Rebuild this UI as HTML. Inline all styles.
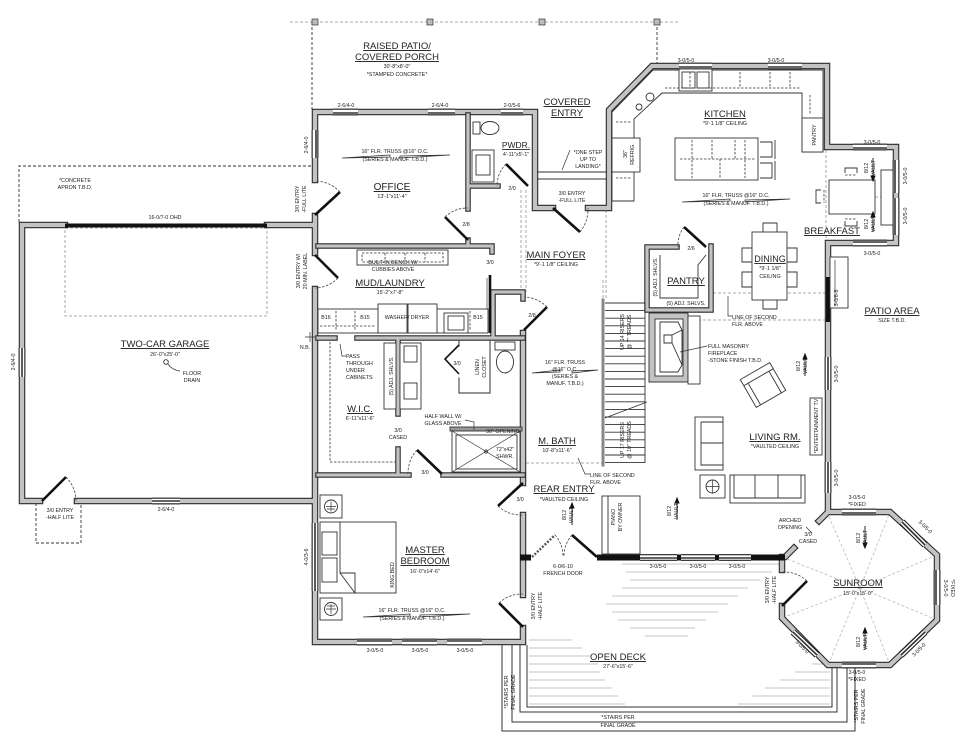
<!DOCTYPE html>
<html><head><meta charset="utf-8">
<style>
html,body{margin:0;padding:0;background:#fff;}
svg{display:block;}
text{font-family:"Liberation Sans Narrow","Liberation Sans",sans-serif;fill:#222;}
.s{font-size:5.3px;}
.r{font-size:9.5px;text-decoration:underline;}
</style></head><body>
<svg width="979" height="742" viewBox="0 0 979 742" xmlns="http://www.w3.org/2000/svg">
<rect x="0" y="0" width="979" height="742" fill="#fff"/>

<!-- dashed outlines: porch, apron -->
<g fill="none" stroke="#aaa" stroke-width="1" stroke-dasharray="3,2">
  <path d="M290 22 L680 22"/>
  <rect x="65" y="228" width="202" height="88"/>
  <path d="M521 190 L521 292 M526 190 L526 292 M606 210 L606 300 M603 280 L603 303"/>
  <path d="M713 293 L828 293 M688 320 L828 320 M526 463 L602 463"/>
  <path d="M826 150 L826 241 M830 197 L894 197"/>
</g>
<g fill="none" stroke="#333" stroke-width="0.9" stroke-dasharray="3,2">
  <path d="M312 22 L312 110 M657 22 L657 65"/>
  <path d="M19 222 L19 166 L312 166"/>
  <path d="M36 503 L36 543 L81 543 L81 503"/>
</g>
<g fill="#bbb" stroke="#333" stroke-width="0.7">
  <rect x="312" y="19" width="6" height="6"/><rect x="427" y="19" width="6" height="6"/>
  <rect x="539" y="19" width="6" height="6"/><rect x="654" y="19" width="6" height="6"/>
</g>

<!-- deck boards -->
<g stroke="#c6c6c6" stroke-width="0.9">
  <path d="M622 564 L780 564 M626 572 L772 572 M630 580 L760 580 M622 588 L748 588 M612 596 L738 596 M606 604 L728 604 M612 612 L718 612 M618 620 L706 620 M630 628 L695 628 M645 636 L688 636"/>
  <path d="M529 640 L572 640 M529 648 L582 648 M529 656 L590 656 M529 664 L598 664 M529 672 L600 672 M529 680 L605 680 M529 688 L612 688 M529 696 L618 696 M529 704 L625 704"/>
  <path d="M812 664 L830 664 M795 672 L830 672 M780 680 L830 680 M765 688 L830 688 M752 696 L830 696 M738 704 L830 704"/>
</g>
<!-- deck borders / stairs -->
<g fill="none" stroke="#333" stroke-width="1">
  <path d="M527 645 L527 707 L832 707 L832 665"/>
  <path d="M520 645 L520 712 L837 712 L837 665"/>
  <path d="M512 645 L512 722 L847 722 L847 665"/>
  <path d="M502 645 L502 731 L855 731 L855 665"/>
</g>

<!-- sunroom radial lines -->
<g stroke="#bbb" stroke-width="0.8" stroke-dasharray="3,2">
  <path d="M860 588 L827 512 M860 588 L890 512 M860 588 L937 555 M860 588 L937 620 M860 588 L890 665 M860 588 L828 665 M860 588 L782 618 M860 588 L782 557"/>
</g>

<!-- EXTERIOR WALLS -->
<g fill="none" stroke-linejoin="miter" stroke-linecap="square">
<path id="ew" stroke="#2a2a2a" stroke-width="6.5" d="
M65 225 L22 225 L22 501 L40 501
M77 501 L312 501
M267 225 L312 225
M315 180 L315 112 L535 112 L535 208 L553 208
M588 208 L609 208 L609 110 L652 66 L827 66 L827 147 L896 147 L896 243 L828 243 L828 512 L819 521
M794 548 L785 557 L782 557 L782 570
M782 606 L782 618 L828 665 L890 665 L937 620 L937 555 L890 512 L828 512
M315 216 L315 253
M315 289 L315 642 L523 642 L523 628
M523 595 L523 515
M523 483 L523 333"/>
<path stroke="#c3c3c3" stroke-width="4.3" d="
M65 225 L22 225 L22 501 L40 501
M77 501 L312 501
M267 225 L312 225
M315 180 L315 112 L535 112 L535 208 L553 208
M588 208 L609 208 L609 110 L652 66 L827 66 L827 147 L896 147 L896 243 L828 243 L828 512 L819 521
M794 548 L785 557 L782 557 L782 570
M782 606 L782 618 L828 665 L890 665 L937 620 L937 555 L890 512 L828 512
M315 216 L315 253
M315 289 L315 642 L523 642 L523 628
M523 595 L523 515
M523 483 L523 333"/>
</g>
<!-- INTERIOR WALLS -->
<g fill="none" stroke-linejoin="miter" stroke-linecap="square">
<path stroke="#2a2a2a" stroke-width="5.5" d="
M318 246 L492 246 L492 252
M468 115 L468 209
M468 186 L498 186
M468 240 L468 246
M493 335 L493 292 L523 292 L523 299
M318 338 L335 338
M357 338 L523 338
M398 340 L398 414
M398 449 L398 475
M318 475 L409 475
M443 475 L523 475
M647 310 L647 247 L677 247
M711 246 L711 310 L647 310"/>
<path stroke="#c3c3c3" stroke-width="3.3" d="
M318 246 L492 246 L492 252
M468 115 L468 209
M468 186 L498 186
M468 240 L468 246
M493 335 L493 292 L523 292 L523 299
M318 338 L335 338
M357 338 L523 338
M398 340 L398 414
M398 449 L398 475
M318 475 L409 475
M443 475 L523 475
M647 310 L647 247 L677 247
M711 246 L711 310 L647 310"/>
<path stroke="#555" stroke-width="1.2" d="M459 340 L459 346 M459 378 L459 393 L490 393 L490 340"/>
<path stroke="#888" stroke-width="3" d="M603 300 L603 465"/>
</g>

<!-- living bottom wall black + segments -->
<g fill="#111">
  <rect x="520" y="554.5" width="11" height="6"/>
  <rect x="597" y="554.5" width="188" height="6"/>
</g>

<!-- WINDOWS -->
<g fill="none" stroke-linecap="butt">
<path stroke="#222" stroke-width="6.8" d="
M333 112 L358 112 M428 112 L455 112 M501 112 L523 112 M315 130 L315 158
M679 66 L712 66 M768 66 L802 66
M853 147 L887 147 M853 243 L887 243 M896 160 L896 193 M896 198 L896 235
M828 357 L828 390 M828 462 L828 493
M640 557.5 L677 557.5 M681 557.5 L715 557.5 M719 557.5 L751 557.5
M315 523 L315 591
M357 642 L392 642 M402 642 L437 642 M447 642 L482 642
M22 348 L22 377 M152 501 L180 501
M842 512 L876 512 M902 522 L925 545 M937 570 L937 605 M925 632 L901 655 M842 665 L876 665 M817 655 L793 632"/>
<path stroke="#fff" stroke-width="4.6" d="
M333 112 L358 112 M428 112 L455 112 M501 112 L523 112 M315 130 L315 158
M679 66 L712 66 M768 66 L802 66
M853 147 L887 147 M853 243 L887 243 M896 160 L896 193 M896 198 L896 235
M828 357 L828 390 M828 462 L828 493
M640 557.5 L677 557.5 M681 557.5 L715 557.5 M719 557.5 L751 557.5
M315 523 L315 591
M357 642 L392 642 M402 642 L437 642 M447 642 L482 642
M22 348 L22 377 M152 501 L180 501
M842 512 L876 512 M902 522 L925 545 M937 570 L937 605 M925 632 L901 655 M842 665 L876 665 M817 655 L793 632"/>
<path stroke="#333" stroke-width="1.6" d="
M333 113 L358 113 M428 113 L455 113 M501 113 L523 113 M316 130 L316 158
M679 67 L712 67 M768 67 L802 67
M853 148 L887 148 M853 242 L887 242 M895 160 L895 193 M895 198 L895 235
M828 357 L828 390 M828 462 L828 493
M640 558 L677 558 M681 558 L715 558 M719 558 L751 558
M315 523 L315 591
M357 641 L392 641 M402 641 L437 641 M447 641 L482 641
M22 348 L22 377 M152 501 L180 501
M842 513 L876 513 M902 522 L925 545 M936 570 L936 605 M925 632 L901 655 M842 664 L876 664 M817 655 L793 632"/>
</g>
<!-- garage door & patio slider -->
<rect x="65" y="223.5" width="202" height="4" fill="#111"/>
<line x1="828" y1="277" x2="828" y2="322" stroke="#111" stroke-width="4"/>
<rect x="830" y="257" width="18" height="51" fill="#fff" stroke="#333" stroke-width="0.9"/>
<line x1="835" y1="260" x2="835" y2="305" stroke="#333" stroke-width="0.7"/>

<!-- DOORS -->
<g stroke="#111" stroke-width="2.6" fill="none">
  <path d="M315 215 L340 192"/>
  <path d="M315 255 L338 278"/>
  <path d="M468 240 L445 217"/>
  <path d="M528 186 L506 164"/>
  <path d="M553 208 L580 232"/>
  <path d="M524 330 L547 307"/>
  <path d="M442 474 L417 450"/>
  <path d="M523 483 L498 506"/>
  <path d="M523 627 L499 603"/>
  <path d="M782 606 L807 581"/>
  <path d="M42 501 L66 477"/>
  <path d="M706 247 L684 227"/>
  <path d="M597 557 L572 535"/>
  <path d="M490 275 L490 333"/>
  <path d="M459 345 L445 359 L459 374" stroke-width="1.6"/>
</g>
<path d="M532 557 L555 535" stroke="#555" stroke-width="2.4" stroke-dasharray="2,1.5" fill="none"/>
<g stroke="#444" stroke-width="0.8" fill="none" stroke-dasharray="2.5,1.5">
  <path d="M340 192 A34 34 0 0 0 315 181"/>
  <path d="M338 278 A33 33 0 0 1 315 288"/>
  <path d="M445 217 A32 32 0 0 1 468 208"/>
  <path d="M506 164 A31 31 0 0 0 497 186"/>
  <path d="M580 232 A36 36 0 0 0 588 208"/>
  <path d="M547 307 A33 33 0 0 0 524 297"/>
  <path d="M417 450 A34 34 0 0 0 408 474"/>
  <path d="M498 506 A34 34 0 0 0 523 515"/>
  <path d="M499 603 A34 34 0 0 1 523 594"/>
  <path d="M807 581 A34 34 0 0 0 782 572"/>
  <path d="M66 477 A34 34 0 0 1 76 501"/>
  <path d="M684 227 A30 30 0 0 0 678 247"/>
  <path d="M555 535 A32 32 0 0 1 563 557"/>
  <path d="M572 535 A32 32 0 0 0 564 557"/>
</g>
<line x1="487" y1="278" x2="487" y2="333" stroke="#555" stroke-width="0.8"/>

<!-- FIXTURES -->
<g fill="#fff" stroke="#333" stroke-width="0.9">
  <!-- PWDR -->
  <rect x="473" y="122" width="7" height="12"/>
  <ellipse cx="490" cy="128" rx="9" ry="6.5"/>
  <rect x="472" y="150" width="22" height="32"/>
  <rect x="476" y="155" width="14" height="20"/>
  <!-- covered entry landing -->
  <path d="M537 172 L607 172 M537 179 L607 179" fill="none"/>
  <!-- mud bench -->
  <rect x="357" y="250" width="91" height="15"/>
  <!-- laundry counter -->
  <rect x="318" y="309" width="170" height="24"/>
  <rect x="378" y="304" width="29" height="29"/>
  <rect x="408" y="304" width="29" height="29"/>
  <rect x="444" y="313" width="24" height="20"/>
  <rect x="448" y="316" width="16" height="14"/>
  <!-- WIC shelf + vanity -->
  <rect x="384" y="343" width="12" height="66"/>
  <rect x="400" y="343" width="21" height="66"/>
  <rect x="404" y="346" width="13" height="16"/>
  <rect x="404" y="383" width="13" height="16"/>
  <!-- bath toilet -->
  <rect x="495" y="342" width="20" height="8"/>
  <ellipse cx="505" cy="362" rx="8.5" ry="11"/>
  <!-- half wall + shower -->
  <rect x="450" y="427" width="72" height="4" fill="#999"/>
  <rect x="452" y="431" width="68" height="41"/>
  <rect x="456" y="435" width="61" height="34"/>
  <!-- kitchen counters -->
  <path d="M653 70 L823 70 L823 152 L802 152 L802 93 L662 93 L634 119 L634 201 L612 201 L612 112 Z"/>
  <rect x="679" y="69" width="33" height="22"/>
  <rect x="682" y="72" width="13" height="16"/><rect x="697" y="72" width="12" height="16"/>
  <rect x="802" y="118" width="21" height="34"/>
  <rect x="612" y="138" width="28" height="34"/>
  <circle cx="650" cy="97" r="4"/><circle cx="639" cy="107" r="3"/>
  <!-- island -->
  <rect x="675" y="138" width="83" height="42"/>
  <path d="M760 142 L772 142 L772 157 L760 157 M760 163 L772 163 L772 178 L760 178 M775 140 L775 159 M775 161 L775 180" fill="none"/>
  <!-- breakfast -->
  <rect x="829" y="180" width="46" height="34"/>
  <rect x="881" y="170" width="12" height="55"/>
  <path d="M845 173 L845 168 L857 168 L857 173 M845 221 L845 226 L857 226 L857 221 M821 190 L816 190 L816 203 L821 203" fill="none"/>
  <!-- dining -->
  <rect x="752" y="232" width="35" height="68"/>
  <path d="M763 232 L763 223 L777 223 L777 232 M763 300 L763 309 L777 309 L777 300 M752 248 L742 248 L742 262 L752 262 M752 272 L742 272 L742 287 L752 287 M787 248 L797 248 L797 262 L787 262 M787 272 L797 272 L797 287 L787 287" fill="none"/>
  <!-- pantry shelves -->
  <path d="M660 255 L660 298 L698 298 L698 265 L706 255" fill="none"/>
  <!-- fireplace -->
  <rect x="649" y="313" width="39" height="69" fill="#c3c3c3" stroke="#2a2a2a"/>
  <rect x="655" y="319" width="28" height="57"/>
  <path d="M660 322 L678 322 L682 330 L682 365 L678 372 L660 372 Z M664 335 L672 335 L672 343 L664 343 Z M672 343 L682 365 M672 335 L682 330" fill="none"/>
  <rect x="688" y="316" width="12" height="68"/>
  <!-- stairs -->
  <path d="M605 303 L645 303 M605 310.6 L645 310.6 M605 318.2 L645 318.2 M605 325.8 L645 325.8 M605 333.4 L645 333.4 M605 341 L645 341 M605 348.6 L645 348.6 M605 356.2 L645 356.2 M605 363.8 L645 363.8 M605 371.4 L645 371.4 M605 379 L645 379 M605 386.6 L645 386.6 M605 394.2 L645 394.2 M605 401.8 L645 401.8 M605 409.4 L645 409.4 M605 417 L645 417 M605 424.6 L645 424.6 M605 432.2 L645 432.2 M605 439.8 L645 439.8 M605 447.4 L645 447.4 M605 455 L645 455 M605 462.6 L645 462.6 M645 303 L645 463 M605 418 L647 402" fill="none"/>
  <!-- living -->
  <g transform="translate(763,385) rotate(-30)"><rect x="-17" y="-16" width="34" height="32"/><path d="M-17 -9 L17 -9 M-12 -9 L-12 16 M12 -9 L12 16" fill="none"/></g>
  <rect x="695" y="417" width="28" height="53"/>
  <path d="M701 422 L701 465 L723 465 M701 422 L723 422 M701 443 L723 443" fill="none"/>
  <rect x="700" y="475" width="25" height="23"/>
  <circle cx="712.5" cy="486.5" r="6.5"/>
  <rect x="730" y="475" width="75" height="28"/>
  <path d="M734 475 L734 498 L801 498 L801 475 M755 475 L755 498 M778 475 L778 498" fill="none"/>
  <rect x="810" y="398" width="12" height="57"/>
  <rect x="602" y="496" width="38" height="58"/>
  <line x1="608" y1="496" x2="608" y2="554"/>
  <!-- bedroom -->
  <rect x="320" y="495" width="22" height="23"/>
  <rect x="320" y="598" width="22" height="22"/>
  <circle cx="331" cy="506.5" r="6.5"/><circle cx="331" cy="609" r="6.5"/>
  <rect x="320" y="522" width="76" height="71"/>
  <rect x="322" y="532" width="15" height="23"/><rect x="322" y="558" width="15" height="24"/>
  <path d="M340 522 L340 573 L355 573 L355 593 M340 573 L355 593" fill="none"/>
  <!-- garage drain -->
  <circle cx="166" cy="362" r="2.3"/>
</g>
<!-- fixture thin details -->
<g stroke="#333" stroke-width="0.7" fill="none">
  <path d="M452 431 L520 472 M520 431 L452 472"/>
  <circle cx="486" cy="451.5" r="1.6"/>
  <path d="M327 509 L335 509 M331 502 L331 511 M327 606 L335 606 M331 605 L331 613 M706 486.5 L719 486.5 M712.5 480 L712.5 493 M326 506.5 L336 506.5 M331 501.5 L331 511.5 M326 609 L336 609 M331 604 L331 614"/>
  <path d="M168 364 Q172 370 180 371"/>
  <path d="M305 337 L315 337 M310 332 L310 342"/>
</g>
<g stroke="#333" stroke-width="0.8" fill="none" stroke-dasharray="2.5,1.5">
  <rect x="362" y="253" width="81" height="9"/>
  <path d="M385 253 L385 262 M405 253 L405 262 M425 253 L425 262"/>
  <path d="M336 311 L336 331 M355 311 L355 331 M470 311 L470 331 M320 326 L375 326"/>
  <path d="M330 342 L330 462 L396 462"/>
  <path d="M680 159 L756 159 M692 140 L692 178 M712 140 L712 159 M735 140 L735 159 M720 159 L720 178 M745 140 L745 178"/>
  <path d="M665 88 L800 88 M690 72 L690 88 M740 72 L740 88 M770 72 L770 88 M790 72 L790 88 M810 95 L810 115 M616 122 L632 122 M616 178 L632 178 M845 175 L857 175 M845 219 L857 219 M824 190 L824 203"/>
</g>

<!-- truss arrows -->
<g fill="#fff" stroke="#333" stroke-width="0.8">
  <path d="M342 158 L390 155 L390 157 Z M450 155 L400 158 L400 156 Z"/>
  <path d="M682 202 L730 199 L730 201 Z M790 199 L745 202 L745 200 Z"/>
  <path d="M532 373 L560 370 L560 372 Z M598 370 L572 373 L572 371 Z"/>
  <path d="M363 617 L410 614 L410 616 Z M470 614 L420 617 L420 615 Z"/>
</g>
<!-- leaders -->
<g stroke="#333" stroke-width="0.7" fill="none">
  <path d="M728 296 L728 316 L732 316"/>
  <path d="M680 352 L707 346"/>
  <path d="M578 458 L585 474 L590 474"/>
  <path d="M465 420 L474 422 L474 430"/>
  <path d="M570 150 L562 170"/>
  <path d="M806 527 L812 533"/>
  <path d="M340 344 L342 356 L346 356"/>
</g>
<!-- vault arrows -->
<g stroke="#111" stroke-width="0.9" fill="#111">
  <path d="M873 158 L873 178" /><path d="M871 176 L873 181 L875 176 Z"/>
  <path d="M873 215 L873 232" /><path d="M871 217 L873 212 L875 217 Z"/>
  <path d="M805 356 L805 376" /><path d="M803 359 L805 354 L807 359 Z"/>
  <path d="M572 505 L572 525" /><path d="M570 508 L572 503 L574 508 Z"/>
  <path d="M677 500 L677 520" /><path d="M675 503 L677 498 L679 503 Z"/>
  <path d="M865 526 L865 546" /><path d="M863 543 L865 548 L867 543 Z"/>
  <path d="M865 630 L865 650" /><path d="M863 633 L865 628 L867 633 Z"/>
</g>

<!-- TEXT -->
<g text-anchor="middle">
<text class="r" x="397" y="49">RAISED PATIO/</text>
<text class="r" x="397" y="60">COVERED PORCH</text>
<text class="s" x="397" y="68">30'-8"x8'-0"</text>
<text class="s" x="397" y="76">*STAMPED CONCRETE*</text>
<text class="s" x="346" y="107">2-6/4-0</text>
<text class="s" x="440" y="107">2-6/4-0</text>
<text class="s" x="512" y="107">2-0/5-6</text>
<text class="r" x="567" y="105">COVERED</text>
<text class="r" x="567" y="116">ENTRY</text>
<text class="r" x="516" y="148" style="font-size:8.5px">PWDR.</text>
<text class="s" x="516" y="156">4'-11"x5'-1"</text>
<text class="s" x="588" y="154">*ONE STEP</text>
<text class="s" x="588" y="161">UP TO</text>
<text class="s" x="588" y="168">LANDING*</text>
<text class="s" x="572" y="195">3/0 ENTRY</text>
<text class="s" x="572" y="202">-FULL LITE</text>
<text class="s" x="512" y="190">2/0</text>
<text class="s" x="686" y="62">3-0/5-0</text>
<text class="s" x="776" y="62">3-0/5-0</text>
<text class="r" x="725" y="117">KITCHEN</text>
<text class="s" x="725" y="125">*9'-1 1/8" CEILING</text>
<text class="s" x="736" y="197">16" FLR. TRUSS @16" O.C.</text>
<text class="s" x="736" y="205">(SERIES &amp; MANUF. T.B.D.)</text>
<text class="r" x="392" y="190" style="font-size:10px">OFFICE</text>
<text class="s" x="392" y="198">13'-1"x11'-4"</text>
<text class="s" x="395" y="153">16" FLR. TRUSS @16" O.C.</text>
<text class="s" x="395" y="161">(SERIES &amp; MANUF. T.B.D.)</text>
<text class="s" x="466" y="226">2/8</text>
<text class="s" x="490" y="264">3/0</text>
<text class="s" x="75" y="182">*CONCRETE</text>
<text class="s" x="75" y="189">APRON T.B.D.</text>
<text class="s" x="165" y="219">16-0/7-0 OHD</text>
<text class="s" x="393" y="264">BUILT-IN BENCH W/</text>
<text class="s" x="393" y="271">CUBBIES ABOVE</text>
<text class="r" x="390" y="286">MUD/LAUNDRY</text>
<text class="s" x="390" y="294">15'-2"x7'-8"</text>
<text class="s" x="326" y="319">B16</text>
<text class="s" x="365" y="319">B15</text>
<text class="s" x="407" y="319">WASHER/ DRYER</text>
<text class="s" x="478" y="319">B15</text>
<text class="s" x="532" y="317">2/8</text>
<text class="r" x="556" y="258">MAIN FOYER</text>
<text class="s" x="556" y="266">*9'-1 1/8" CEILING</text>
<text class="s" x="691" y="250">2/6</text>
<text class="r" x="686" y="284">PANTRY</text>
<text class="s" x="686" y="305">(5) ADJ. SHLVS.</text>
<text class="r" x="770" y="262" style="font-size:9px">DINING</text>
<text class="s" x="770" y="270">*9'-1 1/8"</text>
<text class="s" x="770" y="278">CEILING</text>
<text class="r" x="832" y="234">BREAKFAST</text>
<text class="s" x="872" y="144">3-0/5-0</text>
<text class="s" x="872" y="255">3-0/5-0</text>
<text class="r" x="892" y="314">PATIO AREA</text>
<text class="s" x="892" y="322">SIZE T.B.D.</text>
<text class="r" x="165" y="347">TWO-CAR GARAGE</text>
<text class="s" x="165" y="356">26'-0"x25'-0"</text>
<text class="s" x="192" y="375">FLOOR</text>
<text class="s" x="192" y="382">DRAIN</text>
<text class="s" x="305" y="349">N.B.</text>
<text class="s" x="565" y="364">16" FLR. TRUSS</text>
<text class="s" x="565" y="371">@16" O.C.</text>
<text class="s" x="565" y="378">(SERIES &amp;</text>
<text class="s" x="565" y="385">MANUF. T.B.D.)</text>
<text class="s" x="457" y="365">3/0</text>
<text class="r" x="360" y="412">W.I.C.</text>
<text class="s" x="360" y="420">6'-11"x11'-6"</text>
<text class="s" x="443" y="418">HALF WALL W/</text>
<text class="s" x="443" y="425">GLASS ABOVE</text>
<text class="s" x="503" y="433">36" OPENING</text>
<text class="s" x="398" y="432">3/0</text>
<text class="s" x="398" y="439">CASED</text>
<text class="s" x="505" y="451">72"x42"</text>
<text class="s" x="505" y="458">SHWR.</text>
<text class="r" x="557" y="444">M. BATH</text>
<text class="s" x="557" y="452">10'-8"x11'-6"</text>
<text class="r" x="775" y="440">LIVING RM.</text>
<text class="s" x="775" y="448">*VAULTED CEILING</text>
<text class="s" x="425" y="474">3/0</text>
<text class="r" x="564" y="492">REAR ENTRY</text>
<text class="s" x="564" y="501">*VAULTED CEILING</text>
<text class="s" x="520" y="501">3/0</text>
<text class="s" x="790" y="522">ARCHED</text>
<text class="s" x="790" y="529">OPENING</text>
<text class="s" x="808" y="536">3/0</text>
<text class="s" x="808" y="543">CASED</text>
<text class="s" x="857" y="499">3-0/5-0</text>
<text class="s" x="857" y="506">*FIXED</text>
<text class="r" x="858" y="586">SUNROOM</text>
<text class="s" x="858" y="595">15'-0"x15'-0"</text>
<text class="s" x="857" y="674">3-0/5-0</text>
<text class="s" x="857" y="681">*FIXED</text>
<text class="s" x="618" y="719">*STAIRS PER</text>
<text class="s" x="618" y="727">FINAL GRADE</text>
<text class="r" x="618" y="660">OPEN DECK</text>
<text class="s" x="618" y="668">27'-6"x15'-6"</text>
<text class="s" x="563" y="568">6-0/6-10</text>
<text class="s" x="563" y="575">FRENCH DOOR</text>
<text class="s" x="658" y="568">3-0/5-0</text>
<text class="s" x="698" y="568">3-0/5-0</text>
<text class="s" x="737" y="568">3-0/5-0</text>
<text class="r" x="425" y="553">MASTER</text>
<text class="r" x="425" y="564">BEDROOM</text>
<text class="s" x="425" y="573">16'-0"x14'-6"</text>
<text class="s" x="412" y="612">16" FLR. TRUSS @16" O.C.</text>
<text class="s" x="412" y="620">(SERIES &amp; MANUF. T.B.D.)</text>
<text class="s" x="375" y="652">3-0/5-0</text>
<text class="s" x="420" y="652">3-0/5-0</text>
<text class="s" x="465" y="652">3-0/5-0</text>
<text class="s" x="60" y="512">3/0 ENTRY</text>
<text class="s" x="60" y="519">-HALF LITE</text>
<text class="s" x="166" y="511">2-6/4-0</text>
</g>
<g text-anchor="start">
<text class="s" x="732" y="319">LINE OF SECOND</text>
<text class="s" x="732" y="326">FLR. ABOVE</text>
<text class="s" x="708" y="348">FULL MASONRY</text>
<text class="s" x="708" y="355">FIREPLACE</text>
<text class="s" x="708" y="362">-STONE FINISH T.B.D.</text>
<text class="s" x="346" y="358">PASS</text>
<text class="s" x="346" y="365">THROUGH</text>
<text class="s" x="346" y="372">UNDER</text>
<text class="s" x="346" y="379">CABINETS</text>
<text class="s" x="590" y="477">LINE OF SECOND</text>
<text class="s" x="590" y="484">FLR. ABOVE</text>
</g>
<!-- rotated labels -->
<g text-anchor="middle" class="s">
<g transform="translate(299,199) rotate(-90)"><text class="s">3/0 ENTRY</text></g>
<g transform="translate(306,199) rotate(-90)"><text class="s">-FULL LITE</text></g>
<g transform="translate(300,271) rotate(-90)"><text class="s">3/0 ENTRY W/</text></g>
<g transform="translate(307,271) rotate(-90)"><text class="s">20 MIN. LABEL</text></g>
<g transform="translate(308,145) rotate(-90)"><text class="s">2-6/4-0</text></g>
<g transform="translate(15,362) rotate(-90)"><text class="s">2-6/4-0</text></g>
<g transform="translate(308,557) rotate(-90)"><text class="s">4-0/3-6</text></g>
<g transform="translate(393,376) rotate(-90)"><text class="s">(5) ADJ. SHLVS.</text></g>
<g transform="translate(657,277) rotate(-90)"><text class="s">(5) ADJ. SHLVS.</text></g>
<g transform="translate(479,367) rotate(-90)"><text class="s">LINEN</text></g>
<g transform="translate(486,367) rotate(-90)"><text class="s">CLOSET</text></g>
<g transform="translate(624,332) rotate(-90)"><text class="s">UP 14 RISERS</text></g>
<g transform="translate(631,332) rotate(-90)"><text class="s">@ 7" TREADS</text></g>
<g transform="translate(624,440) rotate(-90)"><text class="s">UP 17 RISERS</text></g>
<g transform="translate(631,440) rotate(-90)"><text class="s">@ 10" TREADS</text></g>
<g transform="translate(627,154) rotate(-90)"><text class="s">36"</text></g>
<g transform="translate(634,154) rotate(-90)"><text class="s">REFRIG.</text></g>
<g transform="translate(816,135) rotate(-90)"><text class="s">PANTRY</text></g>
<g transform="translate(868,168) rotate(-90)"><text class="s">8/12</text></g>
<g transform="translate(875,168) rotate(-90)"><text class="s">VAULT</text></g>
<g transform="translate(868,224) rotate(-90)"><text class="s">8/12</text></g>
<g transform="translate(875,224) rotate(-90)"><text class="s">VAULT</text></g>
<g transform="translate(907,176) rotate(-90)"><text class="s">3-0/5-0</text></g>
<g transform="translate(907,216) rotate(-90)"><text class="s">3-0/5-0</text></g>
<g transform="translate(838,298) rotate(-90)"><text class="s">5-0/6-8</text></g>
<g transform="translate(800,366) rotate(-90)"><text class="s">8/12</text></g>
<g transform="translate(807,366) rotate(-90)"><text class="s">VAULT</text></g>
<g transform="translate(818,426) rotate(-90)"><text class="s">*ENTERTAINMENT TV</text></g>
<g transform="translate(838,374) rotate(-90)"><text class="s">3-0/5-0</text></g>
<g transform="translate(838,478) rotate(-90)"><text class="s">3-0/5-0</text></g>
<g transform="translate(394,575) rotate(-90)"><text class="s">KING BED</text></g>
<g transform="translate(566,515) rotate(-90)"><text class="s">8/12</text></g>
<g transform="translate(573,515) rotate(-90)"><text class="s">VAULT</text></g>
<g transform="translate(671,511) rotate(-90)"><text class="s">8/12</text></g>
<g transform="translate(678,511) rotate(-90)"><text class="s">VAULT</text></g>
<g transform="translate(615,517) rotate(-90)"><text class="s">PIANO</text></g>
<g transform="translate(622,517) rotate(-90)"><text class="s">BY OWNER</text></g>
<g transform="translate(535,606) rotate(-90)"><text class="s">3/0 ENTRY</text></g>
<g transform="translate(542,606) rotate(-90)"><text class="s">-HALF LITE</text></g>
<g transform="translate(769,590) rotate(-90)"><text class="s">3/0 ENTRY</text></g>
<g transform="translate(776,590) rotate(-90)"><text class="s">-HALF LITE</text></g>
<g transform="translate(860,538) rotate(-90)"><text class="s">8/12</text></g>
<g transform="translate(867,538) rotate(-90)"><text class="s">VAULT</text></g>
<g transform="translate(860,642) rotate(-90)"><text class="s">8/12</text></g>
<g transform="translate(867,642) rotate(-90)"><text class="s">VAULT</text></g>
<g transform="translate(944,588) rotate(90)"><text class="s">3-0/5-0</text></g>
<g transform="translate(951,588) rotate(90)"><text class="s">*FIXED</text></g>
<g transform="translate(924,528) rotate(45)"><text class="s">3-0/5-0</text></g>
<g transform="translate(920,651) rotate(-45)"><text class="s">3-0/5-0</text></g>
<g transform="translate(801,648) rotate(45)"><text class="s">3-0/5-0</text></g>
<g transform="translate(858,706) rotate(-90)"><text class="s">*STAIRS PER</text></g>
<g transform="translate(865,706) rotate(-90)"><text class="s">FINAL GRADE</text></g>
<g transform="translate(508,692) rotate(-90)"><text class="s">*STAIRS PER</text></g>
<g transform="translate(515,692) rotate(-90)"><text class="s">FINAL GRADE</text></g>
</g>
</svg>
</body></html>
